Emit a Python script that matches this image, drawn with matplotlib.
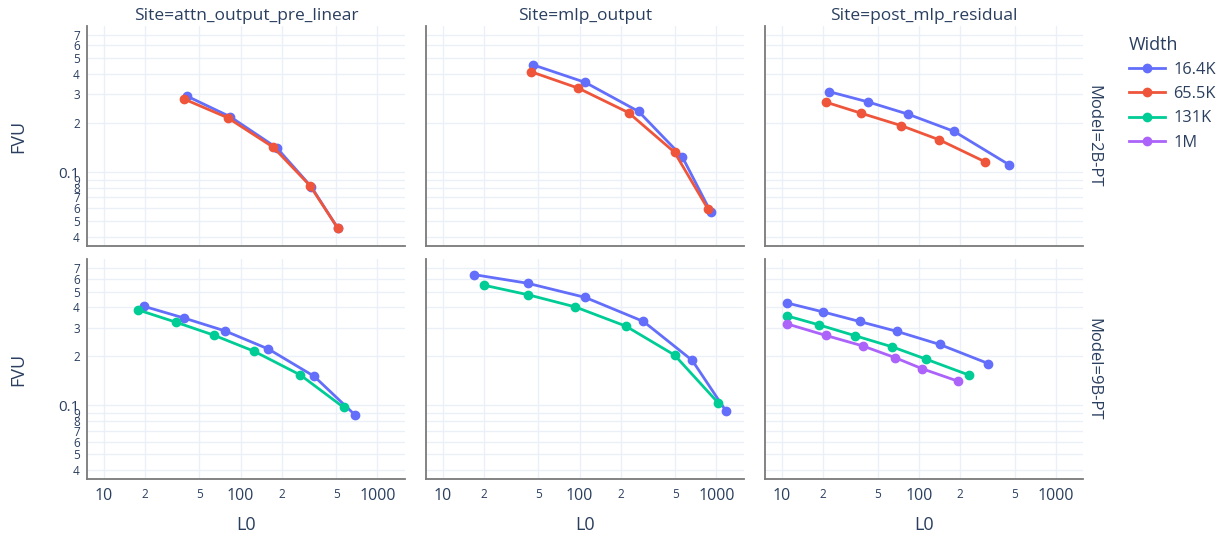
import matplotlib
matplotlib.use("Agg")
import matplotlib.pyplot as plt
from matplotlib.lines import Line2D

plt.rcParams['font.family'] = ['Open Sans', 'DejaVu Sans']

# ---------------- data ----------------
sites = ["attn_output_pre_linear", "mlp_output", "post_mlp_residual"]
models = ["2B-PT", "9B-PT"]
widths = ["16.4K", "65.5K", "131K", "1M"]
colors = {"16.4K": "#636EFA", "65.5K": "#EF553B", "131K": "#00CC96", "1M": "#AB63FA"}

# 2B-PT
l0_2b_attn_16k = [41, 84, 184, 328, 514]
fvu_2b_attn_16k = [0.292, 0.219, 0.141, 0.0815, 0.0452]
l0_2b_attn_65k = [38.8, 80.5, 174, 322, 514]
fvu_2b_attn_65k = [0.281, 0.216, 0.142, 0.0826, 0.0452]

l0_2b_mlp_16k = [45.5, 110, 270, 562, 906]
fvu_2b_mlp_16k = [0.457, 0.356, 0.236, 0.1245, 0.0572]
l0_2b_mlp_65k = [44.2, 98, 228, 494, 868]
fvu_2b_mlp_65k = [0.414, 0.328, 0.232, 0.1325, 0.0593]

l0_2b_post_16k = [22.2, 42.6, 83.5, 181, 457]
fvu_2b_post_16k = [0.312, 0.270, 0.227, 0.178, 0.111]
l0_2b_post_65k = [21, 38, 74.5, 141, 303]
fvu_2b_post_65k = [0.269, 0.230, 0.193, 0.158, 0.116]

# 9B-PT
l0_9b_attn_16k = [19.8, 38.8, 77, 160, 345, 680]
fvu_9b_attn_16k = [0.406, 0.344, 0.287, 0.222, 0.151, 0.088]
l0_9b_attn_131k = [17.9, 34, 64, 126, 273, 565]
fvu_9b_attn_131k = [0.386, 0.324, 0.270, 0.215, 0.154, 0.0975]

l0_9b_mlp_16k = [17, 41.8, 110, 293, 666, 1168]
fvu_9b_mlp_16k = [0.636, 0.563, 0.461, 0.328, 0.189, 0.093]
l0_9b_mlp_131k = [20.2, 42.3, 93, 218, 494, 1027]
fvu_9b_mlp_131k = [0.547, 0.478, 0.403, 0.307, 0.204, 0.104]

l0_9b_post_16k = [10.9, 20.1, 36.9, 69.3, 142, 321]
fvu_9b_post_16k = [0.426, 0.375, 0.328, 0.285, 0.237, 0.181]
l0_9b_post_131k = [10.9, 18.8, 34.3, 64, 112, 231]
fvu_9b_post_131k = [0.355, 0.312, 0.268, 0.229, 0.193, 0.154]
l0_9b_post_1m = [10.9, 21, 39, 66.7, 106, 193]
fvu_9b_post_1m = [0.317, 0.269, 0.232, 0.197, 0.168, 0.141]

x_tick_vals = [10, 20, 50, 100, 200, 500, 1000]
x_tick_text = ["10", "2", "5", "100", "2", "5", "1000"]
y_tick_vals = [0.04, 0.05, 0.06, 0.07, 0.08, 0.09, 0.1, 0.2, 0.3, 0.4, 0.5, 0.6, 0.7]
y_tick_text = ["4", "5", "6", "7", "8", "9", "0.1", "2", "3", "4", "5", "6", "7"]

panels = {
    ("2B-PT", "attn_output_pre_linear"): [("16.4K", l0_2b_attn_16k, fvu_2b_attn_16k),
                                          ("65.5K", l0_2b_attn_65k, fvu_2b_attn_65k)],
    ("2B-PT", "mlp_output"): [("16.4K", l0_2b_mlp_16k, fvu_2b_mlp_16k),
                              ("65.5K", l0_2b_mlp_65k, fvu_2b_mlp_65k)],
    ("2B-PT", "post_mlp_residual"): [("16.4K", l0_2b_post_16k, fvu_2b_post_16k),
                                     ("65.5K", l0_2b_post_65k, fvu_2b_post_65k)],
    ("9B-PT", "attn_output_pre_linear"): [("16.4K", l0_9b_attn_16k, fvu_9b_attn_16k),
                                          ("131K", l0_9b_attn_131k, fvu_9b_attn_131k)],
    ("9B-PT", "mlp_output"): [("16.4K", l0_9b_mlp_16k, fvu_9b_mlp_16k),
                              ("131K", l0_9b_mlp_131k, fvu_9b_mlp_131k)],
    ("9B-PT", "post_mlp_residual"): [("16.4K", l0_9b_post_16k, fvu_9b_post_16k),
                                     ("131K", l0_9b_post_131k, fvu_9b_post_131k),
                                     ("1M", l0_9b_post_1m, fvu_9b_post_1m)],
}

# ---------------- layout ----------------
W, H = 1229, 538
fig = plt.figure(figsize=(W / 100, H / 100), dpi=100)
fig.patch.set_facecolor("white")

TXT = "#2a3f5f"
GRID = "#EBF0F8"
AXLINE = "#7a7a7a"

col_left = [86.7, 425.7, 765.0]
col_w = 318.3
row_top = [26.0, 259.3]
row_h = 220.0
XLIM = (7.53, 1589)
YLIM = (0.0352, 0.79)

for r, model in enumerate(models):
    for c, site in enumerate(sites):
        ax = fig.add_axes([col_left[c] / W, 1 - (row_top[r] + row_h) / H, col_w / W, row_h / H])
        ax.set_xscale("log")
        ax.set_yscale("log")
        ax.set_xlim(*XLIM)
        ax.set_ylim(*YLIM)
        ax.set_facecolor("white")
        ax.minorticks_off()
        ax.set_xticks(x_tick_vals)
        ax.set_yticks(y_tick_vals)
        ax.grid(True, color=GRID, linewidth=1.0, zorder=0)
        ax.set_axisbelow(True)
        ax.tick_params(length=0, colors=TXT)
        for s in ["top", "right"]:
            ax.spines[s].set_visible(False)
        for s in ["left", "bottom"]:
            ax.spines[s].set_color(AXLINE)
            ax.spines[s].set_linewidth(1.3)

        if r == 1:
            ax.set_xticklabels(x_tick_text)
            for lab, txt in zip(ax.get_xticklabels(), x_tick_text):
                lab.set_fontsize(11.5 if len(txt) > 1 else 8.5)
                lab.set_verticalalignment("top")
            ax.tick_params(axis="x", pad=6)
        else:
            ax.set_xticklabels([])
        if c == 0:
            ax.set_yticklabels(y_tick_text)
            for lab, txt in zip(ax.get_yticklabels(), y_tick_text):
                lab.set_fontsize(11 if len(txt) > 1 else 8.5)
            ax.tick_params(axis="y", pad=5)
        else:
            ax.set_yticklabels([])

        for w, xs, ys in panels[(model, site)]:
            ax.plot(xs, ys, color=colors[w], linewidth=2.0, marker="o",
                    markersize=6, zorder=3, clip_on=False)

        if r == 0:
            fig.text((col_left[c] + col_w / 2) / W, 1 - 16.5 / H, "Site=" + site,
                     ha="center", va="center", fontsize=12.5, color=TXT)
        if r == 1:
            fig.text((col_left[c] + col_w / 2) / W, 1 - 525 / H, "L0",
                     ha="center", va="center", fontsize=13, color=TXT)
    fig.text(18 / W, 1 - (row_top[r] + row_h / 2) / H, "FVU", rotation=90,
             ha="center", va="center", fontsize=13, color=TXT)
    fig.text(1093 / W, 1 - (row_top[r] + row_h / 2) / H, "Model=" + model, rotation=-90,
             ha="center", va="center", fontsize=12, color=TXT)

handles = [Line2D([], [], color=colors[w], linewidth=2.0, marker="o", markersize=6)
           for w in widths]
leg = fig.legend(handles, widths, title="Width", loc="upper left",
                 bbox_to_anchor=(1114 / W, 1 - 21 / H), frameon=False,
                 fontsize=11.8, title_fontsize=13, handlelength=2.2,
                 handletextpad=0.5, labelspacing=0.5, alignment="left")
for t in leg.get_texts():
    t.set_color(TXT)
leg.get_title().set_color(TXT)

fig.savefig("out.png", dpi=100, facecolor="white")
